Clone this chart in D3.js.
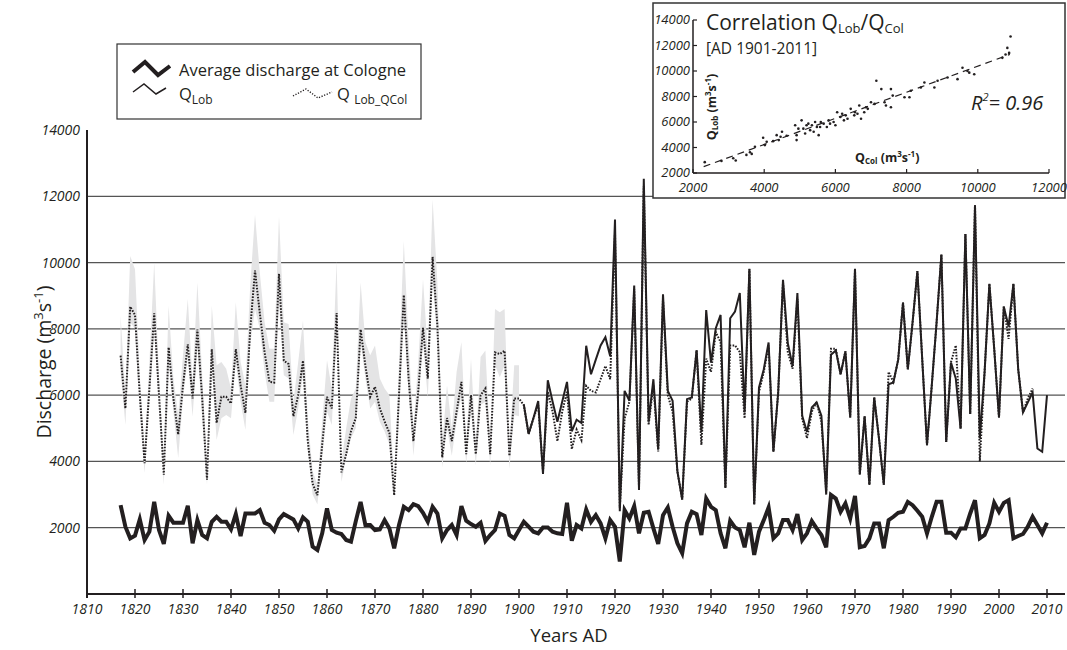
<!DOCTYPE html>
<html>
<head>
<meta charset="utf-8">
<script src="https://cdn.jsdelivr.net/npm/d3@7"></script>
<style>
  body { margin: 0; background: #fff; }
  svg { font-family: "Open Sans", sans-serif; }
</style>
</head>
<body>
<svg width="1067" height="650"></svg>
<script>
// data
var firstYear = 1817;        // start of Cologne and reconstructed series
var lobFirstYear = 1901;     // start of measured Lobith series

var cologne = [
  2680, 2030, 1680, 1760, 2250, 1630, 1880, 2780, 1930, 1510,   // 1817-1826
  2360, 2150, 2150, 2150, 2660, 1530, 2230, 1780, 1680, 2180,   // 1827-1836
  2330, 2180, 2180, 1950, 2410, 1750, 2430, 2430, 2430, 2530,   // 1837-1846
  2150, 2080, 1910, 2250, 2410, 2330, 2250, 1980, 2310, 2180,   // 1847-1856
  1430, 1330, 1830, 2580, 1930, 1850, 1810, 1630, 1580, 2200,   // 1857-1866
  2780, 2080, 2080, 1930, 1950, 2230, 1980, 1380, 2080, 2630,   // 1867-1876
  2530, 2710, 2650, 2450, 2180, 2630, 2430, 1680, 1930, 2080,   // 1877-1886
  1780, 2650, 2210, 2110, 2030, 2150, 1600, 1780, 1930, 2430,   // 1887-1896
  2360, 1780, 1680, 1930, 2180, 2030, 1880, 1830, 2010, 2010,   // 1897-1906
  1880, 1830, 1810, 2750, 1610, 2080, 1980, 2550, 2180, 2380,   // 1907-1916
  2130, 1680, 2230, 2030,  980, 2530, 2280, 2650, 1830, 2450,   // 1917-1926
  2480, 1980, 1510, 2380, 2610, 2030, 1530, 1230, 2130, 2480,   // 1927-1936
  2410, 1780, 2880, 2630, 2530, 1830, 1380, 2210, 2010, 1930,   // 1937-1946
  1410, 2150, 1180, 1880, 2230, 2610, 1680, 1830, 2230, 2230,   // 1947-1956
  1930, 2410, 1630, 1830, 2200, 1980, 1780, 1410, 2990, 2880,   // 1957-1966
  2480, 2730, 2280, 2960, 1410, 1450, 1680, 2130, 2130, 1380,   // 1967-1976
  2230, 2330, 2450, 2480, 2780, 2680, 2510, 2330, 1830, 2330,   // 1977-1986
  2780, 2780, 1850, 1850, 1710, 1980, 1980, 2430, 2830, 1680,   // 1987-1996
  1780, 2130, 2750, 2480, 2750, 2830, 1680, 1750, 1810, 2030,   // 1997-2006
  2330, 2080, 1830, 2150                                        // 2007-2010
];

// Q Lob_QCol, reconstructed from Cologne (dotted)
var qLobQCol = [
  7190, 5600, 8670, 8420, 6000, 3950, 6200, 8470, 6000, 3600,   // 1817-1826
  7440, 5900, 4810, 6300, 7530, 5900, 7980, 5900, 3450, 7390,   // 1827-1836
  5160, 5950, 5950, 5750, 7390, 6300, 5460, 7980, 9760, 8480,   // 1837-1846
  7290, 6400, 6380, 9660, 7040, 6940, 5360, 6000, 7040, 4610,   // 1847-1856
  3330, 2980, 4520, 5950, 5600, 8480, 3670, 4220, 4910, 5310,   // 1857-1866
  7980, 6890, 5950, 6250, 5600, 5210, 4860, 2980, 6000, 9020,   // 1867-1876
  6500, 4610, 6100, 8030, 6500, 10170, 8080, 4120, 5310, 4610,  // 1877-1886
  5500, 6400, 4220, 6000, 4220, 6000, 6200, 4220, 7290, 7240,   // 1887-1896
  7340, 4170, 5900, 5900, 5700, 4830, 5300, 5700, 3700, 6100,   // 1897-1906
  5500, 4610, 5500, 6100, 4370, 4960, 4640, 6280, 6130, 6080,   // 1907-1916
  6480, 6880, 6480, 10900, 2600, 5300, 5800, 9200, 3200, 12300, // 1917-1926
  5100, 6300, 4300, 8900, 6000, 5500, 3700, 2850, 5800, 5900,   // 1927-1936
  7350, 4500, 7100, 6700, 7900, 7600, 3200, 7500, 7500, 7300,   // 1937-1946
  5300, 9800, 2700, 6100, 6700, 7500, 4300, 6100, 9400, 7300,   // 1947-1956
  6800, 8900, 5300, 4700, 5500, 5800, 5200, 3100, 7400, 7400,   // 1957-1966
  6630, 7320, 5330, 9810, 3600, 5360, 3300, 5930, 4690, 3300,   // 1967-1976
  6700, 6400, 7070, 8790, 6780, 8200, 9740, 7100, 4490, 6300,   // 1977-1986
  8200, 10240, 4590, 7000, 7500, 4990, 10860, 5430, 11730, 4000,// 1987-1996
  6700, 9360, 7400, 5330, 8670, 7700, 9360, 6780, 5480, 5900,   // 1997-2006
  6200                                                          // 2007
];

// uncertainty band of the reconstruction, 1817-1900
var bandUpper = [
  8400, 6000, 10200, 9800, 6600, 4300, 7000, 10000, 6600, 4000,
  8700, 6500, 5400, 7200, 8900, 6400, 9400, 6600, 3900, 8700,
  6900, 7000, 6800, 6200, 8800, 7000, 6300, 9300, 11450, 9700,
  8200, 7400, 7400, 11400, 8200, 8150, 5800, 7000, 8250, 5300,
  3700, 3300, 5200, 7050, 6200, 10050, 4000, 5000, 5900, 6200,
  9400, 7600, 7200, 7500, 6500, 6200, 6000, 3300, 7000, 10650,
  7600, 5000, 7000, 9500, 7300, 11900, 9400, 4500, 6300, 5000,
  6700, 7600, 4500, 7100, 4500, 7150, 7350, 4500, 8600, 8500,
  8600, 4400, 6900, 6900
];
var bandLower = [
  6700, 5100, 8200, 8000, 5500, 3650, 5800, 8000, 5600, 3300,
  7000, 5500, 4100, 5900, 7100, 5350, 7500, 5300, 3300, 6900,
  4650, 5300, 5400, 5300, 7000, 5800, 4950, 7500, 8600, 8000,
  6700, 5800, 5800, 8800, 6600, 6500, 4800, 5600, 6600, 4300,
  3000, 2700, 4100, 5500, 5100, 8000, 3380, 4100, 4700, 5000,
  7600, 6500, 5600, 5800, 5200, 4900, 4500, 2900, 5600, 8500,
  6100, 4170, 5700, 7600, 5900, 9500, 7600, 3820, 5000, 4170,
  5200, 6000, 3920, 5600, 3870, 5700, 5800, 3870, 6900, 6540,
  6900, 3770, 5400, 5360
];

// Q Lob measured (solid)
var qLob = [
  5720, 4830, 5300, 5820, 3620, 6450, 5800, 5200, 5800, 6400,   // 1901-1910
  4910, 5260, 5160, 7490, 6630, 7070, 7500, 7750, 7170, 11300,  // 1911-1920
  2500, 6130, 5830, 9310, 3140, 12530, 5200, 6480, 4360, 9040,  // 1921-1930
  6130, 5830, 3700, 2850, 5880, 5930, 7350, 4890, 8570, 6980,   // 1931-1940
  8020, 8420, 3200, 8320, 8520, 9080, 5480, 9810, 2700, 6230,   // 1941-1950
  6780, 7590, 4290, 6080, 9480, 7570, 6880, 9080, 5380, 4890,   // 1951-1960
  5630, 5780, 5380, 3000, 7220, 7350, 6630, 7320, 5330, 9810,   // 1961-1970
  3620, 5360, 3290, 5930, 4690, 3300, 6330, 6380, 7070, 8790,   // 1971-1980
  6780, 8200, 9740, 7100, 4490, 6300, 8200, 10240, 4590, 6980,  // 1981-1990
  6500, 4990, 10860, 5430, 11730, 4690, 6700, 9360, 7400, 5330, // 1991-2000
  8670, 8070, 9360, 6780, 5480, 5780, 6080, 4390, 4290, 6000    // 2001-2010
];

var yearTicks = d3.range(1810, 2011, 10);
var valueTicks = [2000, 4000, 6000, 8000, 10000, 12000, 14000];

// inset scatter: [Q Col, Q Lob]
var scatter = [
  [2330, 2850], [2800, 2950], [3130, 3160], [3200, 2980], [3500, 3420], [3600, 3630],
  [3650, 3500], [3740, 4060], [3970, 4760], [4020, 4190], [4070, 4450], [4250, 4500],
  [4350, 4970], [4410, 4580], [4460, 4840], [4500, 5230], [4630, 4920], [4870, 5740],
  [4910, 4970], [4910, 4580], [4960, 5480], [5050, 6130], [5100, 5480], [5150, 5100],
  [5190, 5740], [5240, 5870], [5290, 5360], [5340, 5740], [5390, 5230], [5430, 6000],
  [5480, 5610], [5530, 4970], [5570, 5610], [5590, 6000], [5670, 5870], [5760, 5610],
  [5810, 6130], [5850, 5870], [5950, 6000], [6000, 5740], [6050, 6770], [6140, 6390],
  [6190, 6650], [6240, 6130], [6290, 6520], [6340, 6260], [6430, 7030], [6530, 6520],
  [6550, 6770], [6620, 6650], [6670, 7290], [6720, 6260], [6810, 6770], [6860, 7160],
  [6910, 7030], [7000, 7550], [7100, 7420], [7150, 9230], [7290, 8580], [7380, 7550],
  [7420, 7290], [7560, 8580], [7560, 7160], [7610, 8070], [7940, 7940], [8080, 7940],
  [8120, 8450], [8400, 8710], [8500, 9100], [8780, 8710], [8870, 9230], [9150, 9490],
  [9430, 9360], [9570, 10260], [9710, 10000], [9760, 9870], [9900, 9740], [10690, 11030],
  [10780, 11290], [10830, 11810], [10880, 11420], [10920, 12710]
];
var fitLine = [[2300, 2500], [10900, 11300]];
var insetXTicks = [2000, 4000, 6000, 8000, 10000, 12000];
var insetYTicks = [2000, 4000, 6000, 8000, 10000, 12000, 14000];

var ink = "#231f20";
var svg = d3.select("svg");

// scales
var x = d3.scaleLinear().domain([1810, 2013.75]).range([87, 1065]);
var y = d3.scaleLinear().domain([0, 14000]).range([594, 130]);

// gridlines
svg.append("g")
  .selectAll("line")
  .data(valueTicks.slice(0, -1))
  .enter().append("line")
  .attr("x1", x(1810)).attr("x2", x(2013.75))
  .attr("y1", function(d) { return y(d); })
  .attr("y2", function(d) { return y(d); })
  .attr("stroke", "#555").attr("stroke-width", 1.3);

// uncertainty band
var bandData = bandUpper.map(function(u, i) {
  return { year: firstYear + i, hi: u, lo: bandLower[i] };
});
svg.append("path")
  .datum(bandData)
  .attr("fill", "#e4e4e5")
  .attr("d", d3.area()
    .x(function(d) { return x(d.year); })
    .y0(function(d) { return y(d.lo); })
    .y1(function(d) { return y(d.hi); }));

function series(values, start) {
  return values.map(function(v, i) { return { year: start + i, v: v }; });
}
var line = d3.line()
  .x(function(d) { return x(d.year); })
  .y(function(d) { return y(d.v); });

// reconstructed (dotted)
svg.append("path")
  .datum(series(qLobQCol, firstYear))
  .attr("fill", "none").attr("stroke", ink)
  .attr("stroke-width", 2).attr("stroke-dasharray", "1.6,1.4")
  .attr("d", line);

// measured Lobith
svg.append("path")
  .datum(series(qLob, lobFirstYear))
  .attr("fill", "none").attr("stroke", ink)
  .attr("stroke-width", 2).attr("stroke-linejoin", "miter")
  .attr("d", line);

// Cologne average
svg.append("path")
  .datum(series(cologne, firstYear))
  .attr("fill", "none").attr("stroke", ink)
  .attr("stroke-width", 4).attr("stroke-linejoin", "miter")
  .attr("d", line);

// axes
var xAxis = svg.append("g");
xAxis.append("line")
  .attr("x1", x(1810)).attr("x2", x(2013.75))
  .attr("y1", y(0)).attr("y2", y(0))
  .attr("stroke", ink).attr("stroke-width", 2);
xAxis.selectAll(".tick")
  .data(yearTicks)
  .enter().append("line")
  .attr("x1", function(d) { return x(d); })
  .attr("x2", function(d) { return x(d); })
  .attr("y1", y(0) - 5).attr("y2", y(0) + 4)
  .attr("stroke", ink).attr("stroke-width", 1.5);
xAxis.selectAll("text")
  .data(yearTicks)
  .enter().append("text")
  .attr("x", function(d) { return x(d); })
  .attr("y", 614)
  .attr("text-anchor", "middle")
  .attr("font-size", 14).attr("font-style", "italic").attr("fill", ink)
  .text(function(d) { return d; });

svg.append("line")
  .attr("x1", x(1810)).attr("x2", x(1810))
  .attr("y1", y(14000)).attr("y2", y(0) + 4)
  .attr("stroke", ink).attr("stroke-width", 2);
svg.append("g").selectAll("text")
  .data(valueTicks)
  .enter().append("text")
  .attr("x", 80)
  .attr("y", function(d) { return y(d) + 5; })
  .attr("text-anchor", "end")
  .attr("font-size", 14).attr("font-style", "italic").attr("fill", ink)
  .text(function(d) { return d; });

// axis titles
var yt = svg.append("text")
  .attr("transform", "translate(51,362) rotate(-90)")
  .attr("text-anchor", "middle")
  .attr("font-size", 19.5).attr("fill", ink);
yt.append("tspan").text("Discharge (m");
yt.append("tspan").attr("font-size", 13).attr("dy", -8).text("3");
yt.append("tspan").attr("dy", 8).text("s");
yt.append("tspan").attr("font-size", 13).attr("dy", -8).text("-1");
yt.append("tspan").attr("dy", 8).text(")");

svg.append("text")
  .attr("x", 569).attr("y", 642)
  .attr("text-anchor", "middle")
  .attr("font-size", 18.5).attr("fill", ink)
  .text("Years AD");

// legend
var legend = svg.append("g");
legend.append("rect")
  .attr("x", 117).attr("y", 44).attr("width", 304).attr("height", 75)
  .attr("fill", "#fff").attr("stroke", "#333").attr("stroke-width", 1.2);
var icon = d3.line();
legend.append("path")
  .attr("d", icon([[133, 72], [145, 62], [158, 75], [170, 66]]))
  .attr("fill", "none").attr("stroke", ink).attr("stroke-width", 4);
legend.append("path")
  .attr("d", icon([[133, 92], [144, 84], [156, 94], [166, 88]]))
  .attr("fill", "none").attr("stroke", ink).attr("stroke-width", 1.5);
legend.append("path")
  .attr("d", icon([[293, 96], [306, 89], [318, 98], [332, 92]]))
  .attr("fill", "none").attr("stroke", ink).attr("stroke-width", 1.4)
  .attr("stroke-dasharray", "1.2,1.6");
legend.append("text")
  .attr("x", 179).attr("y", 76)
  .attr("font-size", 16.5).attr("fill", ink)
  .text("Average discharge at Cologne");
var l2 = legend.append("text")
  .attr("x", 179).attr("y", 100)
  .attr("font-size", 16.5).attr("fill", ink);
l2.append("tspan").text("Q");
l2.append("tspan").attr("font-size", 12).attr("dy", 4).text("Lob");
var l3 = legend.append("text")
  .attr("x", 337).attr("y", 100)
  .attr("font-size", 16.5).attr("fill", ink);
l3.append("tspan").text("Q ");
l3.append("tspan").attr("font-size", 12).attr("dy", 4).text("Lob_QCol");

// inset correlation plot
var inset = svg.append("g");
inset.append("rect")
  .attr("x", 653).attr("y", 3).attr("width", 412).attr("height", 195)
  .attr("fill", "#fff").attr("stroke", "#333").attr("stroke-width", 1.5);

var ix = d3.scaleLinear().domain([2000, 12000]).range([693, 1049]);
var iy = d3.scaleLinear().domain([2000, 14000]).range([173, 20]);

inset.append("line")
  .attr("x1", ix(2000)).attr("x2", ix(12000))
  .attr("y1", iy(2000)).attr("y2", iy(2000))
  .attr("stroke", ink).attr("stroke-width", 1.5);
inset.append("line")
  .attr("x1", ix(2000)).attr("x2", ix(2000))
  .attr("y1", iy(2000)).attr("y2", iy(14000))
  .attr("stroke", ink).attr("stroke-width", 1.5);
inset.append("g").selectAll("line")
  .data(insetXTicks)
  .enter().append("line")
  .attr("x1", function(d) { return ix(d); })
  .attr("x2", function(d) { return ix(d); })
  .attr("y1", iy(2000)).attr("y2", iy(2000) - 4)
  .attr("stroke", ink).attr("stroke-width", 1.2);
inset.append("g").selectAll("line")
  .data(insetYTicks)
  .enter().append("line")
  .attr("x1", ix(2000)).attr("x2", ix(2000) + 4)
  .attr("y1", function(d) { return iy(d); })
  .attr("y2", function(d) { return iy(d); })
  .attr("stroke", ink).attr("stroke-width", 1.2);
inset.append("g").selectAll("text")
  .data(insetXTicks)
  .enter().append("text")
  .attr("x", function(d) { return ix(d); })
  .attr("y", 192)
  .attr("text-anchor", "middle")
  .attr("font-size", 13).attr("font-style", "italic").attr("fill", ink)
  .text(function(d) { return d; });
inset.append("g").selectAll("text")
  .data(insetYTicks)
  .enter().append("text")
  .attr("x", 690)
  .attr("y", function(d) { return iy(d) + 4; })
  .attr("text-anchor", "end")
  .attr("font-size", 13).attr("font-style", "italic").attr("fill", ink)
  .text(function(d) { return d; });

inset.append("path")
  .attr("d", d3.line()
    .x(function(d) { return ix(d[0]); })
    .y(function(d) { return iy(d[1]); })(fitLine))
  .attr("stroke", ink).attr("stroke-width", 1.2)
  .attr("stroke-dasharray", "7,5");

inset.append("g").selectAll("circle")
  .data(scatter)
  .enter().append("circle")
  .attr("cx", function(d) { return ix(d[0]); })
  .attr("cy", function(d) { return iy(d[1]); })
  .attr("r", 1.3)
  .attr("fill", ink);

var title = inset.append("text")
  .attr("x", 706).attr("y", 30)
  .attr("font-size", 21).attr("fill", ink);
title.append("tspan").text("Correlation Q");
title.append("tspan").attr("font-size", 13).attr("dy", 3).text("Lob");
title.append("tspan").attr("dy", -3).text("/Q");
title.append("tspan").attr("font-size", 13).attr("dy", 3).text("Col");
inset.append("text")
  .attr("x", 706).attr("y", 54)
  .attr("font-size", 15.5).attr("fill", ink)
  .text("[AD 1901-2011]");

var r2 = inset.append("text")
  .attr("x", 971).attr("y", 110)
  .attr("font-size", 20).attr("font-style", "italic").attr("fill", ink);
r2.append("tspan").text("R");
r2.append("tspan").attr("font-size", 11).attr("dy", -9).text("2");
r2.append("tspan").attr("dy", 9).text("= 0.96");

var xl = inset.append("text")
  .attr("x", 855).attr("y", 162)
  .attr("font-size", 12.5).attr("font-weight", "bold").attr("fill", ink);
xl.append("tspan").text("Q");
xl.append("tspan").attr("font-size", 8).attr("dy", 2).text("Col");
xl.append("tspan").attr("dy", -2).text(" (m");
xl.append("tspan").attr("font-size", 8).attr("dy", -5).text("3");
xl.append("tspan").attr("dy", 5).text("s");
xl.append("tspan").attr("font-size", 8).attr("dy", -5).text("-1");
xl.append("tspan").attr("dy", 5).text(")");

var yl = inset.append("text")
  .attr("transform", "translate(716,107) rotate(-90)")
  .attr("text-anchor", "middle")
  .attr("font-size", 12.5).attr("font-weight", "bold").attr("fill", ink);
yl.append("tspan").text("Q");
yl.append("tspan").attr("font-size", 8).attr("dy", 2).text("Lob");
yl.append("tspan").attr("dy", -2).text(" (m");
yl.append("tspan").attr("font-size", 8).attr("dy", -5).text("3");
yl.append("tspan").attr("dy", 5).text("s");
yl.append("tspan").attr("font-size", 8).attr("dy", -5).text("-1");
yl.append("tspan").attr("dy", 5).text(")");
</script>
</body>
</html>
